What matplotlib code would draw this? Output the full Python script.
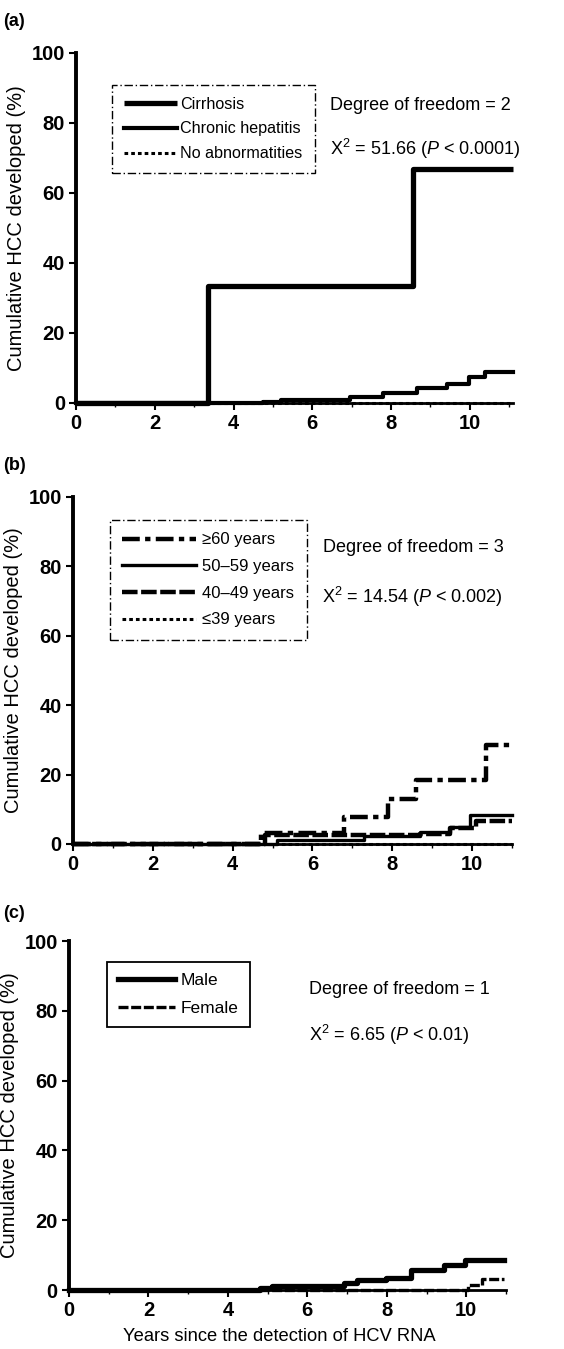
import matplotlib
matplotlib.use("Agg")
import matplotlib.pyplot as plt

plt.rcParams['font.family'] = ['Liberation Sans', 'DejaVu Sans']
plt.rcParams['mathtext.fontset'] = 'custom'
plt.rcParams['mathtext.rm'] = 'Liberation Sans'
plt.rcParams['mathtext.it'] = 'Liberation Sans:italic'

# (a) histology
cirr_t = [0, 3.35, 8.55, 11.1]
cirr_y = [0, 33.3, 66.7, 66.7]
chron_t = [0, 4.75, 5.2, 6.95, 7.8, 8.66, 9.43, 9.98, 10.4, 11.1]
chron_y = [0, 0.4, 0.8, 1.7, 2.9, 4.2, 5.3, 7.3, 8.9, 8.9]
noabn_t = [0, 11.1]
noabn_y = [0, 0]

# (b) age
age60_t = [0, 4.7, 6.8, 7.9, 8.6, 10.35, 11.0]
age60_y = [0, 3.2, 7.8, 13.0, 18.5, 28.5, 28.5]
age50_t = [0, 5.1, 7.3, 8.7, 9.45, 9.95, 11.0]
age50_y = [0, 1.2, 2.2, 3.3, 5.0, 8.4, 8.4]
age40_t = [0, 4.8, 8.7, 9.45, 10.1, 11.0]
age40_y = [0, 2.5, 3.0, 4.5, 6.5, 6.5]
age39_t = [0, 11.0]
age39_y = [0, 0]

# (c) sex
male_t = [0, 4.8, 5.1, 6.93, 7.24, 7.98, 8.6, 9.45, 9.96, 10.95]
male_y = [0, 0.5, 1.2, 2.0, 2.8, 3.5, 5.8, 7.1, 8.6, 8.6]
fem_t = [0, 10.05, 10.4, 10.95]
fem_y = [0, 1.5, 3.3, 3.3]

yticks = [0, 20, 40, 60, 80, 100]
xticks = [0, 2, 4, 6, 8, 10]
ylab = "Cumulative HCC developed (%)"

fig = plt.figure(figsize=(5.64, 13.49), dpi=100)


def style_axes(ax, xmax):
    ax.set_xlim(0, xmax)
    ax.set_ylim(0, 100)
    ax.set_yticks(yticks)
    ax.set_xticks(xticks)
    ax.set_xticks(range(1, 12, 2), minor=True)
    ax.spines['top'].set_visible(False)
    ax.spines['right'].set_visible(False)
    ax.spines['left'].set_linewidth(2.8)
    ax.spines['bottom'].set_linewidth(2)
    ax.tick_params(axis='both', which='major', direction='out', length=5, width=1.5,
                   labelsize=14.5, pad=3)
    ax.tick_params(axis='x', which='minor', direction='out', length=3, width=1)
    for lab in ax.get_xticklabels() + ax.get_yticklabels():
        lab.set_fontweight('bold')
    ax.set_ylabel(ylab, fontsize=14.5, labelpad=4)


def step(ax, t, y, **kw):
    return ax.step(t, y, where='post', color='black', clip_on=False, **kw)[0]


# ---- (a)
ax1 = fig.add_axes([0.1348, 0.7013, 0.7748, 0.2595])
h1 = step(ax1, cirr_t, cirr_y, lw=3.8, solid_capstyle='butt')
h2 = step(ax1, chron_t, chron_y, lw=3)
h3 = step(ax1, noabn_t, noabn_y, lw=2.2, linestyle=(0, (1.2, 1.0)))
style_axes(ax1, 11.1)
leg = ax1.legend([h1, h2, h3], ["Cirrhosis", "Chronic hepatitis", "No abnormatities"],
                 loc='upper left', bbox_to_anchor=(0.082, 0.909), borderaxespad=0,
                 fontsize=11.6, handlelength=3.3, handletextpad=0.2, labelspacing=0.6,
                 fancybox=False, edgecolor='black', framealpha=1, borderpad=0.75)
leg.get_frame().set_linewidth(1)
leg.get_frame().set_linestyle((0, (6, 2, 1, 2)))
ax1.text(6.45, 85, "Degree of freedom = 2", fontsize=13, va='center')
ax1.text(6.45, 72.5, "X$^2$ = 51.66 ($P$ < 0.0001)", fontsize=13, va='center')
fig.text(0.006, 0.9837, "(a)", fontsize=13, fontweight='bold', va='center')

# ---- (b)
ax2 = fig.add_axes([0.1294, 0.3744, 0.7784, 0.2572])
g1 = step(ax2, age60_t, age60_y, lw=3.2, linestyle=(0, (4, 1.2, 1.2, 1.2)))
g2 = step(ax2, age50_t, age50_y, lw=2.4)
g3 = step(ax2, age40_t, age40_y, lw=3.2, linestyle=(0, (3.5, 0.8)))
g4 = step(ax2, age39_t, age39_y, lw=2.2, linestyle=(0, (1.2, 1.0)))
style_axes(ax2, 11.0)
leg = ax2.legend([g1, g2, g3, g4], ["\u226560 years", "50\u201359 years", "40\u201349 years", "\u226439 years"],
                 loc='upper left', bbox_to_anchor=(0.084, 0.934), borderaxespad=0,
                 fontsize=12, handlelength=4.4, handletextpad=0.4, labelspacing=0.7,
                 fancybox=False, edgecolor='black', framealpha=1, borderpad=0.75)
leg.get_frame().set_linewidth(1)
leg.get_frame().set_linestyle((0, (6, 2, 1, 2)))
ax2.text(6.27, 85.3, "Degree of freedom = 3", fontsize=13, va='center')
ax2.text(6.24, 71.2, "X$^2$ = 14.54 ($P$ < 0.002)", fontsize=13, va='center')
fig.text(0.006, 0.6553, "(b)", fontsize=13, fontweight='bold', va='center')

# ---- (c)
ax3 = fig.add_axes([0.1223, 0.0437, 0.7748, 0.2587])
m1 = step(ax3, male_t, male_y, lw=3.8)
m2 = step(ax3, fem_t, fem_y, lw=2.4, linestyle=(0, (3, 0.8)))
style_axes(ax3, 10.95)
leg = ax3.legend([m1, m2], ["Male", "Female"],
                 loc='upper left', bbox_to_anchor=(0.086, 0.94), borderaxespad=0,
                 fontsize=12.5, handlelength=3.3, handletextpad=0.3, labelspacing=0.7,
                 fancybox=False, edgecolor='black', framealpha=1, borderpad=0.65)
leg.get_frame().set_linewidth(1.3)
ax3.text(6.04, 86, "Degree of freedom = 1", fontsize=13, va='center')
ax3.text(6.04, 73, "X$^2$ = 6.65 ($P$ < 0.01)", fontsize=13, va='center')
ax3.set_xlabel("Years since the detection of HCV RNA", fontsize=13.2)
ax3.xaxis.set_label_coords(0.482, -0.108)
fig.text(0.006, 0.3232, "(c)", fontsize=13, fontweight='bold', va='center')

fig.savefig("out.png", dpi=100)
